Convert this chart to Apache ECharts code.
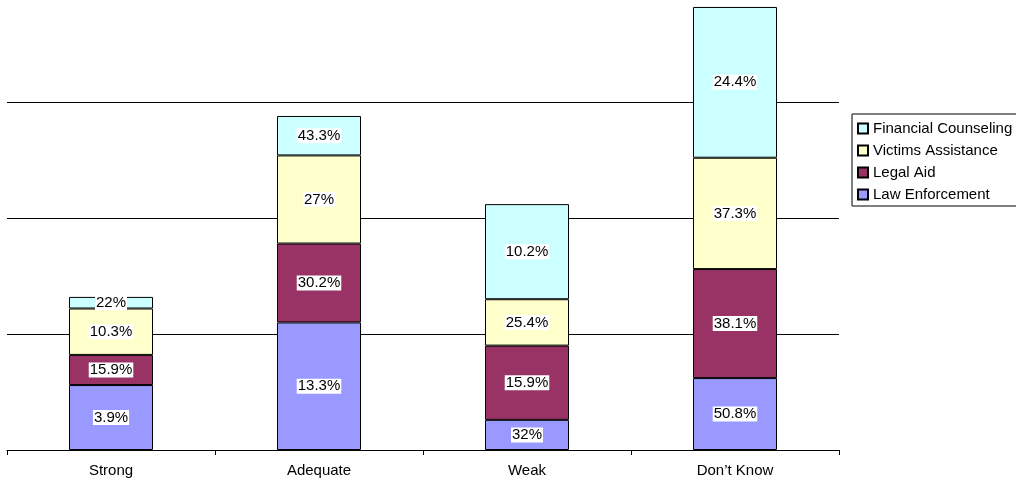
<!DOCTYPE html>
<html>
<head>
<meta charset="utf-8">
<script src="https://cdn.jsdelivr.net/npm/echarts@6/dist/echarts.min.js"></script>
<style>
  html, body { margin: 0; padding: 0; background: #fff; }
  #chart { width: 1016px; height: 487px; }
</style>
</head>
<body>
<div id="chart"></div>
<script>
// categories and series values (counts)
var categories = ['Strong', 'Adequate', 'Weak', 'Don\u2019t Know'];

var law_enforcement = [28, 55, 13, 31];
var legal_aid = [13, 34, 32, 47];
var victims_assistance = [20, 38, 20, 48];
var financial_counseling = [5, 17, 41, 65];

// text printed on each segment, as it appears in the picture
var law_enforcement_labels = ['3.9%', '13.3%', '32%', '50.8%'];
var legal_aid_labels = ['15.9%', '30.2%', '15.9%', '38.1%'];
var victims_assistance_labels = ['10.3%', '27%', '25.4%', '37.3%'];
var financial_counseling_labels = ['22%', '43.3%', '10.2%', '24.4%'];

// value axis: gridlines every 50, the plot stops a little under 200
var y_min = 0;
var y_max = 194;
var y_step = 50;

function make_series(name, data, labels, color){
    return {
        name: name,
        type: 'bar',
        stack: 'total',
        barWidth: 84,
        data: data,
        itemStyle: {
            color: color,
            borderColor: '#000',
            borderWidth: 1
        },
        label: {
            show: true,
            position: 'inside',
            color: '#000',
            fontFamily: 'Liberation Sans, Arial, sans-serif',
            fontSize: 15,
            lineHeight: 15,
            backgroundColor: '#fff',
            padding: [0, 1],
            formatter: function(params){
                return labels[params.dataIndex];
            }
        },
        emphasis: { disabled: true }
    };
}

var myChart = echarts.init(document.getElementById('chart'));

var option = {
    animation: false,
    textStyle: { fontFamily: 'Liberation Sans, Arial, sans-serif' },
    grid: {
        left: 7,
        right: 177,
        top: 0,
        bottom: 37,
        containLabel: false
    },
    legend: {
        data: ['Financial Counseling', 'Victims Assistance', 'Legal Aid', 'Law Enforcement'],
        orient: 'vertical',
        left: 852,
        top: 114,
        padding: [7, 6, 4, 5],
        itemGap: 7,
        itemWidth: 10,
        itemHeight: 10,
        icon: 'rect',
        borderColor: '#000',
        borderWidth: 1,
        selectedMode: false,
        textStyle: {
            color: '#000',
            fontSize: 15,
            fontFamily: 'Liberation Sans, Arial, sans-serif'
        }
    },
    xAxis: {
        type: 'category',
        data: categories,
        axisLine: { lineStyle: { color: '#000', width: 1 } },
        axisTick: { show: true, length: 5, lineStyle: { color: '#000' } },
        axisLabel: {
            color: '#000',
            fontSize: 15,
            margin: 13
        }
    },
    yAxis: {
        type: 'value',
        min: y_min,
        max: y_max,
        interval: y_step,
        axisLine: { show: false },
        axisTick: { show: false },
        axisLabel: { show: false },
        splitLine: { showMaxLine: false, lineStyle: { color: '#000', width: 1 } }
    },
    series: [
        make_series('Law Enforcement', law_enforcement, law_enforcement_labels, '#9999FF'),
        make_series('Legal Aid', legal_aid, legal_aid_labels, '#993366'),
        make_series('Victims Assistance', victims_assistance, victims_assistance_labels, '#FFFFCC'),
        make_series('Financial Counseling', financial_counseling, financial_counseling_labels, '#CCFFFF')
    ]
};

myChart.setOption(option);
</script>
</body>
</html>
